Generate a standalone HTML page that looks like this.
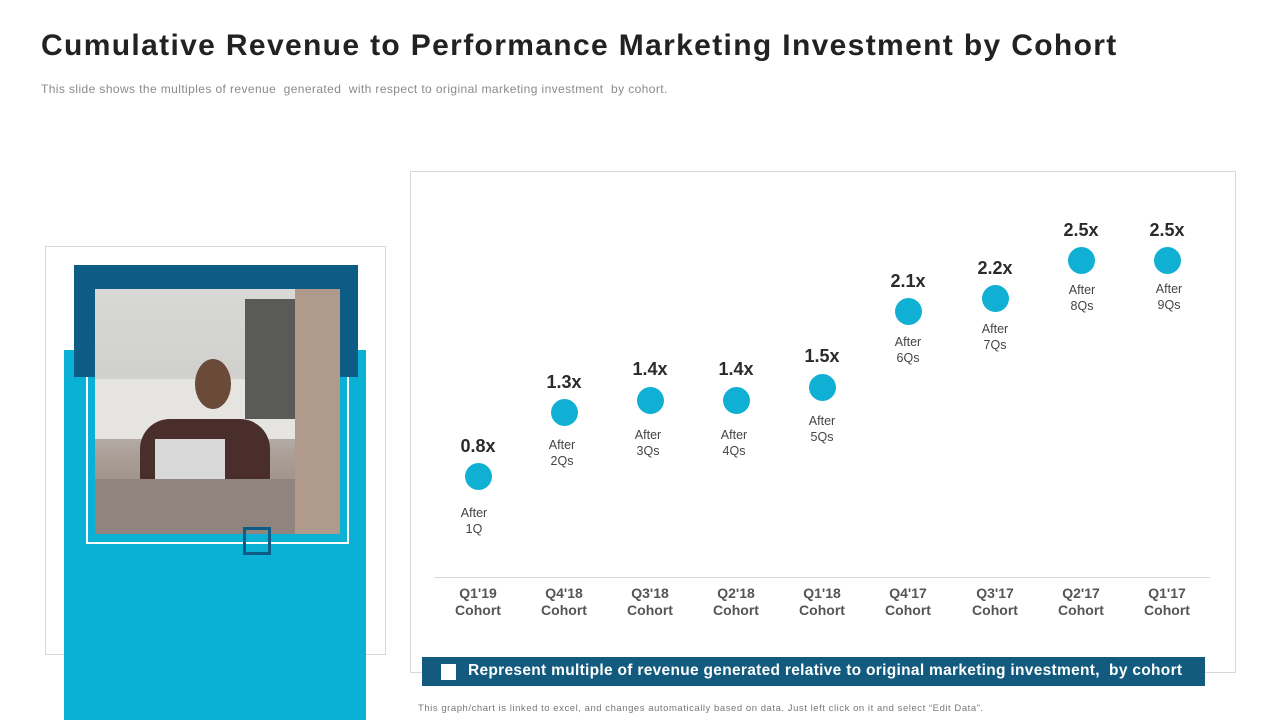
<!DOCTYPE html>
<html><head><meta charset="utf-8"><style>
*{margin:0;padding:0;box-sizing:border-box}
body{width:1280px;height:720px;background:#fff;position:relative;overflow:hidden;font-family:"Liberation Sans",sans-serif}
.a{position:absolute}
.val{position:absolute;width:80px;text-align:center;font-weight:bold;font-size:18px;color:#2b2b2b}
.aft{position:absolute;width:80px;text-align:center;font-size:12.5px;color:#444;line-height:16px}
.dot{position:absolute;width:27px;height:27px;border-radius:50%;background:#0fb0d4}
.cat{position:absolute;width:90px;text-align:center;font-weight:bold;font-size:14px;color:#555;line-height:17px;top:585px}
</style></head><body>
<div class="a" style="left:41px;top:29px;font-size:30px;font-weight:bold;color:#222;letter-spacing:1.35px;white-space:nowrap">Cumulative Revenue to Performance Marketing Investment by Cohort</div>
<div class="a" style="left:41px;top:82px;font-size:12px;color:#8a8a8a;letter-spacing:0.4px;white-space:nowrap">This slide shows the multiples of revenue &nbsp;generated &nbsp;with respect to original marketing investment &nbsp;by cohort.</div>

<div class="a" style="left:45px;top:246px;width:341px;height:409px;border:1px solid #d8d8d8"></div>
<div class="a" style="left:64px;top:350px;width:302px;height:370px;background:#0bb0d5"></div>
<div class="a" style="left:74px;top:265px;width:284px;height:112px;background:#0c5c85"></div>
<div class="a" style="left:86px;top:377px;width:263px;height:167px;border:2px solid #fff;border-top:none"></div>
<div class="a" style="left:95px;top:289px;width:245px;height:245px;background:linear-gradient(180deg,#d8d8d6 0%,#cfcfcc 40%,#a89c94 70%,#8a7f78 100%);overflow:hidden">
 <div class="a" style="left:0;top:90px;width:245px;height:60px;background:#e6e4e0"></div>
 <div class="a" style="left:150px;top:10px;width:60px;height:120px;background:#5a5a58"></div>
 <div class="a" style="left:45px;top:130px;width:130px;height:70px;border-radius:30px 30px 0 0;background:#4a2e2c"></div>
 <div class="a" style="left:100px;top:70px;width:36px;height:50px;border-radius:50%;background:#6b4a3a"></div>
 <div class="a" style="left:60px;top:150px;width:70px;height:40px;background:#d8d8d8"></div>
 <div class="a" style="left:0;top:190px;width:245px;height:55px;background:#8f857e"></div>
 <div class="a" style="left:200px;top:0;width:45px;height:245px;background:#b09a8c"></div>
</div>
<div class="a" style="left:243px;top:527px;width:28px;height:28px;border:3px solid #0c5c85"></div>

<div class="a" style="left:410px;top:171px;width:826px;height:502px;border:1px solid #d8d8d8"></div>
<div class="a" style="left:434px;top:577px;width:776px;height:1px;background:#d8d8d8"></div>

<div class="val" style="left:438px;top:436px">0.8x</div><div class="dot" style="left:465px;top:463px"></div><div class="aft" style="left:434px;top:505px">After<br>1Q</div>
<div class="val" style="left:524px;top:372px">1.3x</div><div class="dot" style="left:551px;top:399px"></div><div class="aft" style="left:522px;top:437px">After<br>2Qs</div>
<div class="val" style="left:610px;top:359px">1.4x</div><div class="dot" style="left:637px;top:387px"></div><div class="aft" style="left:608px;top:427px">After<br>3Qs</div>
<div class="val" style="left:696px;top:359px">1.4x</div><div class="dot" style="left:723px;top:387px"></div><div class="aft" style="left:694px;top:427px">After<br>4Qs</div>
<div class="val" style="left:782px;top:346px">1.5x</div><div class="dot" style="left:809px;top:374px"></div><div class="aft" style="left:782px;top:413px">After<br>5Qs</div>
<div class="val" style="left:868px;top:271px">2.1x</div><div class="dot" style="left:895px;top:298px"></div><div class="aft" style="left:868px;top:334px">After<br>6Qs</div>
<div class="val" style="left:955px;top:258px">2.2x</div><div class="dot" style="left:982px;top:285px"></div><div class="aft" style="left:955px;top:321px">After<br>7Qs</div>
<div class="val" style="left:1041px;top:220px">2.5x</div><div class="dot" style="left:1068px;top:247px"></div><div class="aft" style="left:1042px;top:282px">After<br>8Qs</div>
<div class="val" style="left:1127px;top:220px">2.5x</div><div class="dot" style="left:1154px;top:247px"></div><div class="aft" style="left:1129px;top:281px">After<br>9Qs</div>

<div class="cat" style="left:433px">Q1'19<br>Cohort</div>
<div class="cat" style="left:519px">Q4'18<br>Cohort</div>
<div class="cat" style="left:605px">Q3'18<br>Cohort</div>
<div class="cat" style="left:691px">Q2'18<br>Cohort</div>
<div class="cat" style="left:777px">Q1'18<br>Cohort</div>
<div class="cat" style="left:863px">Q4'17<br>Cohort</div>
<div class="cat" style="left:950px">Q3'17<br>Cohort</div>
<div class="cat" style="left:1036px">Q2'17<br>Cohort</div>
<div class="cat" style="left:1122px">Q1'17<br>Cohort</div>

<div class="a" style="left:422px;top:657px;width:783px;height:29px;background:#135b7e"></div>
<div class="a" style="left:441px;top:664px;width:15px;height:16px;background:#fff"></div>
<div class="a" style="left:468px;top:662px;font-size:15.5px;font-weight:bold;color:#fff;white-space:nowrap;letter-spacing:0.3px">Represent multiple of revenue generated relative to original marketing investment, &nbsp;by cohort</div>
<div class="a" style="left:418px;top:703px;font-size:9.5px;color:#777;white-space:nowrap;letter-spacing:0.55px">This graph/chart is linked to excel, and changes automatically based on data. Just left click on it and select “Edit Data”.</div>
</body></html>
